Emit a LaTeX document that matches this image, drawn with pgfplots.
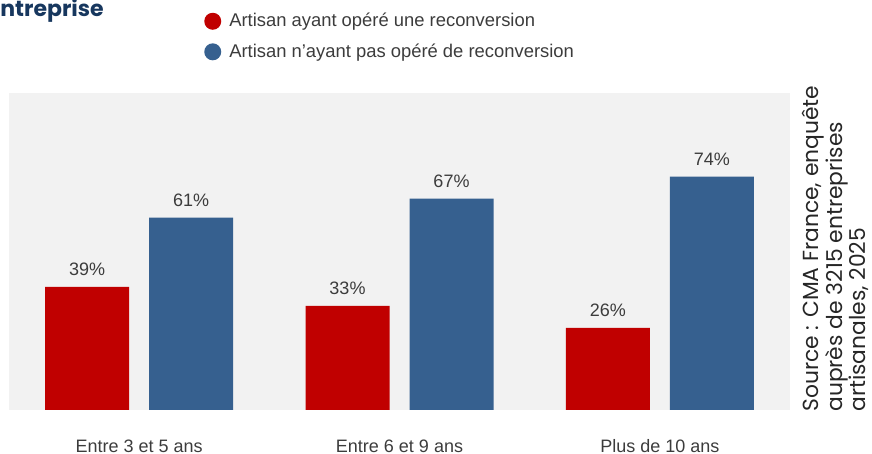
\documentclass[border=0pt]{standalone}
\usepackage{fontspec}
\setmainfont{Liberation Sans}
\newfontfamily\srcfont{Poppins}
\usepackage{pgfplots}
\pgfplotsset{compat=1.18}
\definecolor{cmred}{HTML}{C00000}
\definecolor{cmblue}{HTML}{36608F}
\definecolor{bggray}{HTML}{F2F2F2}
\definecolor{txt}{HTML}{3C3C3C}
\definecolor{navy}{HTML}{17375E}

\begin{document}
\begin{tikzpicture}[x=1pt,y=1pt]
\useasboundingbox (0,0) rectangle (436,227);
\node[anchor=base west, inner sep=0pt, font=\srcfont\bfseries\fontsize{11}{13}\selectfont, text=navy] at (0,218.5) {ntreprise};
\begin{axis}[
  at={(4.5pt,22pt)}, anchor=south west,
  scale only axis, width=390.5pt, height=158.5pt,
  ybar=10pt, bar width=42pt,
  xmin=-0.5, xmax=2.5, ymin=0, ymax=100.5,
  xtick=data, xticklabels={Entre 3 et 5 ans, Entre 6 et 9 ans, Plus de 10 ans},
  ytick=\empty,
  tick style={draw=none},
  axis line style={draw=none},
  axis background/.style={fill=bggray},
  xticklabel style={font=\fontsize{9}{11}\selectfont, text=txt, anchor=north, yshift=-7pt},
  /pgf/number format/assume math mode=true,
  nodes near coords={\pgfmathprintnumber{\pgfplotspointmeta}\%},
  nodes near coords style={font=\fontsize{9}{11}\selectfont, text=txt, yshift=2pt},
  legend style={at={(0.25,1.265)}, anchor=north west, draw=none, fill=none,
    inner sep=0pt, outer sep=0pt, font=\fontsize{9.2}{11}\selectfont, text=txt,
    row sep=3pt},
  legend cell align=left,
]
\addplot[fill=cmred, draw=none,
  legend image code/.code={\fill[cmred] (4.25pt,0pt) circle (4.25pt); \path (10.5pt,0pt);}]
  coordinates {(0,39) (1,33) (2,26)};
\addlegendentry{Artisan ayant opéré une reconversion}
\addplot[fill=cmblue, draw=none,
  legend image code/.code={\fill[cmblue] (4.25pt,0pt) circle (4.25pt); \path (10.5pt,0pt);}]
  coordinates {(0,61) (1,67) (2,74)};
\addlegendentry{Artisan n'ayant pas opéré de reconversion}
\end{axis}
\node[rotate=90, anchor=north west, align=left, inner sep=0pt,
  font=\srcfont\fontsize{10.9}{11.6}\selectfont, text=black!85] at (401,21)
  {Source : CMA France, enquête\\auprès de 3215 entreprises\\artisanales, 2025};
\end{tikzpicture}
\end{document}
